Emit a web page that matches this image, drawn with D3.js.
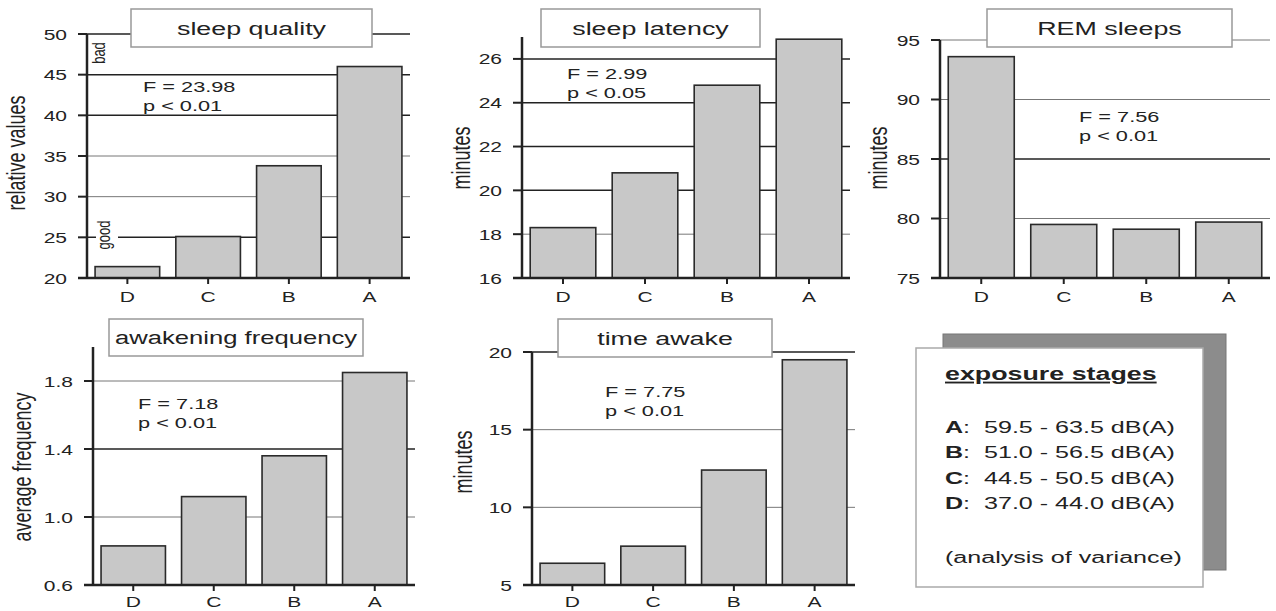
<!DOCTYPE html>
<html>
<head>
<meta charset="utf-8">
<script src="https://cdn.jsdelivr.net/npm/d3@7"></script>
<style>
  body { margin: 0; background: #fff; }
  svg { display: block; font-family: "Liberation Sans", Arial, sans-serif; }
</style>
</head>
<body>
<div id="canvas"></div>
<script>
// data
const categories = ["D", "C", "B", "A"]
const sleepQuality = [21.4, 25.1, 33.8, 46.0]
const sleepLatency = [18.3, 20.8, 24.8, 26.9]
const remSleeps = [93.6, 79.5, 79.1, 79.7]
const awakeningFrequency = [0.83, 1.12, 1.36, 1.85]
const timeAwake = [6.4, 7.5, 12.4, 19.5]

const titles = ["sleep quality", "sleep latency", "REM sleeps", "awakening frequency", "time awake"]
const yLabels = ["relative values", "minutes", "minutes", "average frequency", "minutes"]
const fValues = ["F = 23.98", "F = 2.99", "F = 7.56", "F = 7.18", "F = 7.75"]
const pValues = ["p < 0.01", "p < 0.05", "p < 0.01", "p < 0.01", "p < 0.01"]

const tickValues = [
  [20, 25, 30, 35, 40, 45, 50],
  [16, 18, 20, 22, 24, 26],
  [75, 80, 85, 90, 95],
  [0.6, 1.0, 1.4, 1.8],
  [5, 10, 15, 20]
]
const domains = [[20, 50], [16, 27], [75, 95], [0.6, 2.0], [5, 20]]

const stageLetters = ["A", "B", "C", "D"]
const stageRanges = ["59.5 - 63.5 dB(A)", "51.0 - 56.5 dB(A)", "44.5 - 50.5 dB(A)", "37.0 - 44.0 dB(A)"]

// layout of each panel (pixels)
const panels = [
  { values: sleepQuality, x0: 87, x1: 410, yTop: 34, yBot: 278, box: [131, 372, 9, 47], lab: [25, 153], stat: [143, 92], dark: [50, 45, 40, 25], fmt: "d" },
  { values: sleepLatency, x0: 522, x1: 850, yTop: 37, yBot: 278, box: [541, 760, 9, 47], lab: [470, 158], stat: [567, 79], dark: [26, 24, 22, 20], fmt: "d" },
  { values: remSleeps, x0: 940, x1: 1270, yTop: 40, yBot: 278, box: [987, 1232, 9, 47], lab: [887, 158], stat: [1079, 122], dark: [85], fmt: "d" },
  { values: awakeningFrequency, x0: 93, x1: 415, yTop: 347, yBot: 585, box: [109, 363, 319, 356], lab: [31, 467], stat: [138, 409], dark: [1.4], fmt: ".1f" },
  { values: timeAwake, x0: 532, x1: 855, yTop: 352, yBot: 585, box: [558, 772, 319, 357], lab: [472, 462], stat: [605, 397], dark: [20], fmt: "d" }
]

const SX = 1.45 // the original picture is stretched sideways

const svg = d3.select("#canvas").append("svg").attr("width", 1276).attr("height", 611)

// text helper: stretched horizontally like the reference
function label(g, x, y, txt, size, anchor, rot) {
  return g.append("text")
    .attr("transform", `translate(${x},${y}) scale(${SX},1)` + (rot ? ` rotate(${rot})` : ""))
    .attr("text-anchor", anchor || "start")
    .attr("font-size", size)
    .attr("fill", "#222")
    .text(txt)
}

panels.forEach((p, i) => {
  const g = svg.append("g")
  const y = d3.scaleLinear().domain(domains[i]).range([p.yBot, p.yTop])
  const x = d3.scaleBand().domain(categories).range([p.x0, p.x1]).paddingInner(0.2).paddingOuter(0.1)
  const f = d3.format(p.fmt)

  // gridlines
  g.selectAll(".grid")
    .data(tickValues[i].filter(t => t !== domains[i][0]))
    .enter()
    .append("line")
    .attr("x1", p.x0).attr("x2", p.x1)
    .attr("y1", d => y(d)).attr("y2", d => y(d))
    .attr("stroke", d => p.dark.includes(d) ? "#222" : "#777")
    .attr("stroke-width", d => p.dark.includes(d) ? 1.5 : 1)

  // bars
  g.selectAll(".bar")
    .data(p.values)
    .enter()
    .append("rect")
    .attr("x", (d, j) => x(categories[j]))
    .attr("y", d => y(d))
    .attr("width", x.bandwidth())
    .attr("height", d => p.yBot - y(d))
    .attr("fill", "#c8c8c8")
    .attr("stroke", "#2a2a2a")
    .attr("stroke-width", 1.6)

  // y axis with ticks
  g.append("line").attr("x1", p.x0).attr("x2", p.x0).attr("y1", p.yBot).attr("y2", p.yTop)
    .attr("stroke", "#222").attr("stroke-width", 2.5)
  tickValues[i].forEach(t => {
    g.append("line").attr("x1", p.x0 - 9).attr("x2", p.x0).attr("y1", y(t)).attr("y2", y(t))
      .attr("stroke", "#222").attr("stroke-width", 2)
    label(g, p.x0 - 20, y(t) + 5.5, f(t), 14.5, "end")
  })

  // x axis with ticks
  g.append("line").attr("x1", p.x0 - 9).attr("x2", p.x1).attr("y1", p.yBot).attr("y2", p.yBot)
    .attr("stroke", "#222").attr("stroke-width", 2.5)
  categories.forEach(c => {
    const cx = x(c) + x.bandwidth() / 2
    g.append("line").attr("x1", cx).attr("x2", cx).attr("y1", p.yBot).attr("y2", p.yBot + 6)
      .attr("stroke", "#222").attr("stroke-width", 2)
    label(g, cx, p.yBot + (i < 3 ? 24 : 22), c, 14.5, "middle")
  })

  // title box, text shrunk if it would touch the box edges
  g.append("rect").attr("x", p.box[0]).attr("y", p.box[2])
    .attr("width", p.box[1] - p.box[0]).attr("height", p.box[3] - p.box[2])
    .attr("fill", "#fff").attr("stroke", "#999").attr("stroke-width", 1.5)
  const tt = label(g, (p.box[0] + p.box[1]) / 2, (p.box[2] + p.box[3]) / 2 + 6.5, titles[i], 18.5, "middle")
  const room = (p.box[1] - p.box[0] - 12) / SX
  const w = tt.node().getComputedTextLength()
  if (w > room) tt.attr("font-size", 18.5 * room / w)

  // y label
  label(g, p.lab[0], p.lab[1], yLabels[i], 18, "middle", -90)

  // statistics
  label(g, p.stat[0], p.stat[1], fValues[i], 15)
  label(g, p.stat[0], p.stat[1] + 19, pValues[i], 15)
})

// "bad" / "good" markers on the sleep quality panel
const g1 = svg.append("g")
g1.append("rect").attr("x", 96).attr("y", 218).attr("width", 22).attr("height", 34).attr("fill", "#fff")
label(g1, 105, 53, "bad", 13, "middle", -90)
label(g1, 110, 235, "good", 13, "middle", -90)

// legend box with shadow
const leg = svg.append("g")
leg.append("rect").attr("x", 943).attr("y", 334).attr("width", 283).attr("height", 236).attr("fill", "#8c8c8c").attr("stroke", "#777")
leg.append("rect").attr("x", 916).attr("y", 348).attr("width", 287).attr("height", 239).attr("fill", "#fff").attr("stroke", "#aaa").attr("stroke-width", 1.5)
label(leg, 945, 380, "exposure stages", 18.5, "start").attr("font-weight", "bold").attr("text-decoration", "underline")

stageLetters.forEach((s, j) => {
  const t = label(leg, 945, 433 + j * 25.3, "", 17.3, "start")
  t.append("tspan").attr("font-weight", "bold").text(s)
  t.append("tspan").text(":\u00a0\u00a0" + stageRanges[j])
})
label(leg, 945, 563, "(analysis of variance)", 17.3, "start")
</script>
</body>
</html>
